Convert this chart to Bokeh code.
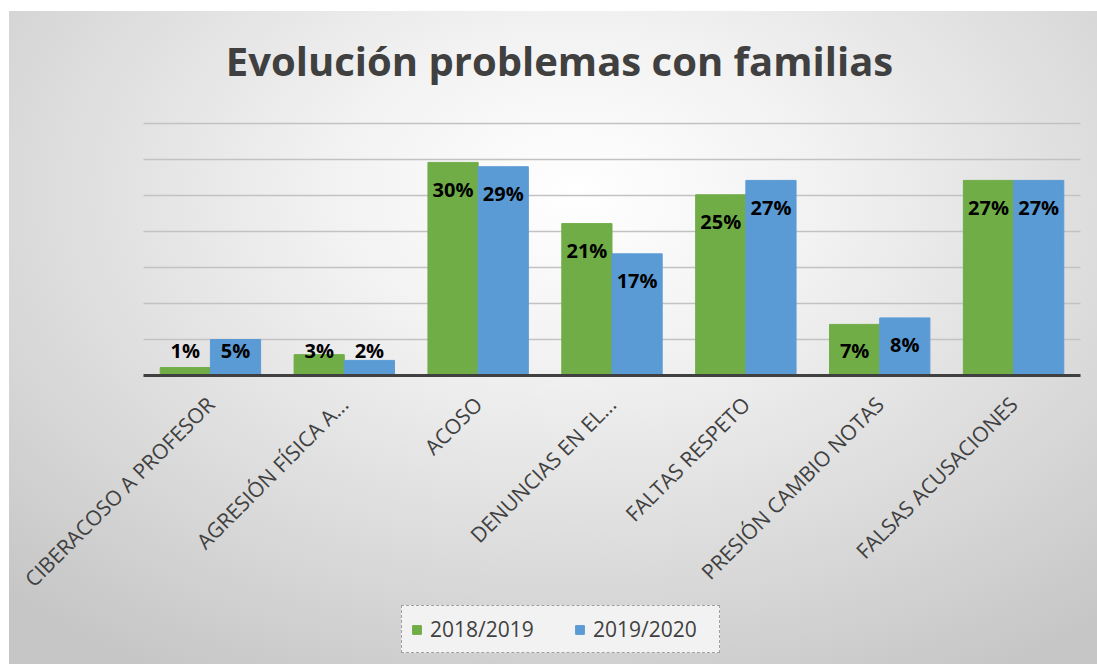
import math
from bokeh.plotting import figure
from bokeh.models import (ColumnDataSource, Legend, LegendItem, Range1d,
                          FixedTicker, Label)
from bokeh.core.properties import value
from bokeh.embed import file_html
from bokeh.resources import INLINE

# ---------------- data ----------------
categories = ["CIBERACOSO A PROFESOR", "AGRESIÓN FÍSICA A...", "ACOSO",
              "DENUNCIAS EN EL...", "FALTAS RESPETO", "PRESIÓN CAMBIO NOTAS",
              "FALSAS ACUSACIONES"]
series_names = ["2018/2019", "2019/2020"]
values_2018 = [1.1, 2.9, 29.6, 21.1, 25.1, 7.1, 27.1]
values_2019 = [5.0, 2.1, 29.0, 16.9, 27.1, 8.0, 27.1]
labels_2018 = ["1%", "3%", "30%", "21%", "25%", "7%", "27%"]
labels_2019 = ["5%", "2%", "29%", "17%", "27%", "8%", "27%"]
y_ticks = [0, 5, 10, 15, 20, 25, 30, 35]
title_text = "Evolución problemas con familias"

GREEN = "#70AD47"
BLUE = "#5B9BD5"
TXT = "#404040"
BAR_W = 0.375
OFF = 0.1875

idx = list(range(len(categories)))

# label position: inside end, clamped for short bars
def label_pos(vals):
    return [max(v - 3.75, 3.5) for v in vals]

src = ColumnDataSource(dict(
    x18=[i - OFF for i in idx], x19=[i + OFF for i in idx],
    v18=values_2018, v19=values_2019,
    l18=labels_2018, l19=labels_2019,
    y18=label_pos(values_2018), y19=label_pos(values_2019),
))

W, H = 1088, 653
# the frame covers the whole chart; category axis pinned at y = 0
p = figure(x_range=Range1d(-1.501, 6.627), y_range=Range1d(-40.14, 50.56),
           width=W, height=H, output_backend="svg", toolbar_location=None,
           title=None, min_border=0)

p.styles = {
    "background": "radial-gradient(ellipse 75% 85% at 52% 28%, #ffffff 0%, #f2f2f2 30%, #d6d6d6 75%, #c6c6c6 100%)",
    "margin-top": "11px",
    "margin-left": "9px",
}
p.border_fill_alpha = 0
p.background_fill_alpha = 0
p.outline_line_color = None

# title
p.add_layout(Label(x=550, y=H - 49, x_units="screen", y_units="screen",
                   text=title_text, text_align="center", text_baseline="alphabetic",
                   text_font="Open Sans", text_font_size="40px",
                   text_font_style="bold", text_color=TXT))

r1 = p.vbar(x="x18", top="v18", width=BAR_W, source=src,
            fill_color=GREEN, line_color=GREEN)
r2 = p.vbar(x="x19", top="v19", width=BAR_W, source=src,
            fill_color=BLUE, line_color=BLUE)

for col_x, col_y, col_t in [("x18", "y18", "l18"), ("x19", "y19", "l19")]:
    p.text(x=col_x, y=col_y, text=col_t, source=src,
           text_align="center", text_baseline="middle",
           text_font=value("Open Sans"), text_font_style="bold",
           text_font_size="20px", text_color="black")

# axes / grid
n = len(categories)
p.yaxis.visible = False
p.yaxis.ticker = FixedTicker(ticks=y_ticks)
p.xgrid.grid_line_color = None
grid = p.ygrid[0]
grid.ticker = FixedTicker(ticks=y_ticks)
grid.grid_line_color = "#c2c2c2"
grid.grid_line_width = 1.5
grid.bounds = (0, 35)
try:
    grid.cross_bounds = (-0.5, n - 0.5)
except Exception:
    grid.grid_line_color = None
    p.segment(x0=-0.5, x1=n - 0.5, y0=y_ticks[1:], y1=y_ticks[1:],
              line_color="#c2c2c2", line_width=1.5)

xa = p.xaxis[0]
xa.fixed_location = 0
xa.bounds = (-0.5, n - 0.5)
xa.ticker = FixedTicker(ticks=idx)
xa.major_label_overrides = {i: c for i, c in zip(idx, categories)}
xa.axis_line_color = TXT
xa.axis_line_width = 3
xa.major_tick_line_color = None
xa.minor_tick_line_color = None
xa.major_label_orientation = math.pi / 4
xa.major_label_standoff = 19
xa.major_label_text_font = "Open Sans"
xa.major_label_text_font_size = "21px"
xa.major_label_text_color = TXT

legend = Legend(items=[LegendItem(label=series_names[0], renderers=[r1]),
                       LegendItem(label=series_names[1], renderers=[r2])],
                orientation="horizontal", location=(392, 11))
legend.border_line_color = "#505050"
legend.border_line_dash = "2 2"
legend.border_line_width = 1
legend.background_fill_color = "#f2f2f2"
legend.background_fill_alpha = 1
legend.label_text_font = "Open Sans"
legend.label_text_font_size = "21px"
legend.label_text_color = TXT
legend.label_width = 117
legend.label_standoff = 8
legend.glyph_width = 11
legend.glyph_height = 11
legend.spacing = 27
legend.padding = 9
legend.margin = 0
p.add_layout(legend, "center")

open("out.html", "w").write(file_html(p, INLINE))
